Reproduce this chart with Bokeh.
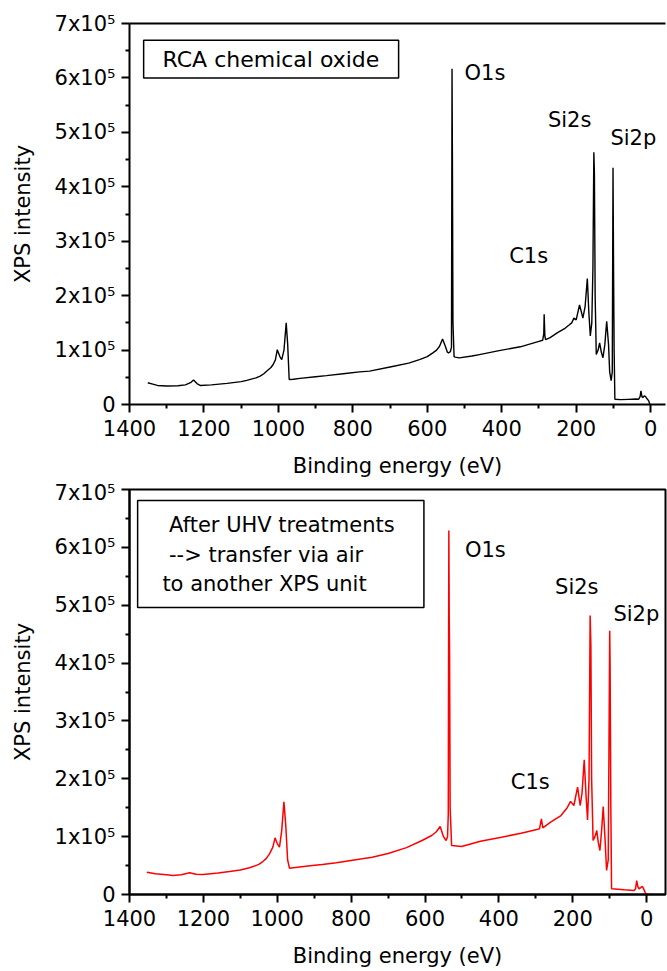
from bokeh.plotting import figure
from bokeh.models import FixedTicker, Label, BoxAnnotation, LinearAxis, Range1d
from bokeh.layouts import column
from bokeh.embed import file_html
from bokeh.resources import INLINE

FONT = "DejaVu Sans"

# ---------------- data ----------------
x_ticks = [0, 200, 400, 600, 800, 1000, 1200, 1400]
x_minor = [100, 300, 500, 700, 900, 1100, 1300]
y_ticks = [0, 100000, 200000, 300000, 400000, 500000, 600000, 700000]
y_minor = [50000, 150000, 250000, 350000, 450000, 550000, 650000]
y_tick_labels = ["0", "1x10⁵", "2x10⁵", "3x10⁵", "4x10⁵", "5x10⁵", "6x10⁵", "7x10⁵"]

# RCA chemical oxide (black)
rca_energy = [1351, 1340, 1325, 1300, 1270, 1250, 1236, 1228, 1218, 1210, 1180, 1138,
              1100, 1085, 1060, 1049, 1040, 1031, 1020, 1014, 1008, 1003, 996, 991,
              985, 979, 975, 971, 960, 942, 900, 871, 820, 782, 755, 700, 650, 621,
              600, 585, 575, 567, 559, 552, 546, 543, 538, 535, 533.5, 532.5, 531, 528,
              525, 514, 480, 460, 407, 350, 300, 290, 287, 286, 284, 282, 270, 250,
              230, 219, 212, 206, 200, 191, 186, 182, 176, 170, 166, 162, 158, 155,
              152.5, 151, 149, 146, 141, 137, 132, 128, 123, 118, 113, 110, 106, 103,
              101, 99.5, 98, 96, 80, 60, 40, 32, 28, 26, 23, 20.5, 17, 14, 9, 5, 2, 0]
rca_intensity = [40000, 38000, 35000, 34000, 34500, 36000, 40000, 45000, 38000, 35000,
                 36000, 38800, 42000, 44300, 49000, 52000, 56000, 61400, 68000, 73500,
                 82000, 100800, 88000, 82600, 100000, 150000, 110000, 46000, 46500,
                 48000, 51000, 53000, 57000, 60000, 61400, 69000, 76000, 82600, 88000,
                 94800, 100000, 107000, 120300, 108000, 96000, 94800, 97000, 105000,
                 617000, 459000, 150000, 88000, 87000, 85700, 89000, 91700, 99000,
                 106000, 116000, 118000, 130000, 166000, 125000, 119000, 123000,
                 132000, 140000, 146000, 150000, 158600, 155500, 182800, 170000,
                 158600, 180000, 231500, 170000, 126000, 150000, 250000, 463600,
                 426000, 200000, 91700, 100000, 113000, 95000, 86000, 110000, 153000,
                 110000, 60000, 43700, 60000, 435000, 244000, 100000, 9700, 9000, 9500,
                 10000, 9700, 15000, 25000, 14000, 12800, 15800, 15000, 10000, 6700, 0,
                 -6000]

# After UHV treatments (red)
uhv_energy = [1353, 1330, 1300, 1282, 1260, 1237, 1220, 1201, 1160, 1129, 1100, 1075,
              1050, 1039, 1030, 1021, 1012, 1006, 1000, 994, 988, 982, 977, 972, 967,
              940, 905, 878, 840, 770, 743, 700, 650, 608, 582, 570, 559, 550, 543,
              539, 537, 535.5, 534.5, 533.5, 532, 528, 501, 450, 393, 340, 300, 290,
              285, 281, 260, 232, 215, 206, 197, 187, 180, 175, 169, 164, 160, 156,
              153, 151, 149, 145, 140, 135, 131, 126.5, 122, 117.6, 113, 108.5, 104,
              100, 99, 97, 95, 60, 34, 30, 27, 24, 20.7, 16, 11.6, 7, 2.7, -8]
uhv_intensity = [38600, 36000, 34000, 32800, 34000, 37500, 35000, 34600, 37000, 39700,
                 42500, 46100, 52000, 57000, 62000, 70300, 82000, 98000, 88000, 81800,
                 110000, 160000, 120000, 60000, 45500, 47500, 50000, 51800, 55000,
                 61700, 64500, 71000, 81000, 93300, 102000, 108000, 117500, 100000,
                 93300, 100000, 140000, 629000, 479000, 416000, 150000, 84700, 83000,
                 92000, 99000, 106000, 112000, 113500, 130800, 115000, 125000, 136500,
                 150000, 161000, 153800, 185500, 153800, 175000, 232800, 170000,
                 129000, 200000, 482000, 430000, 200000, 93300, 100000, 110600, 90000,
                 76000, 110000, 152000, 100000, 41500, 60000, 456000, 400000, 150000,
                 9800, 8000, 6900, 10000, 24000, 14000, 9800, 12000, 14300, 8000, 1200, 0]


def style_axes(p):
    for ax in (p.xaxis[0], p.yaxis[0]):
        ax.axis_line_width = 2
        ax.axis_line_color = "black"
        ax.major_tick_line_width = 2
        ax.minor_tick_line_width = 2
        ax.major_tick_line_color = "black"
        ax.minor_tick_line_color = "black"
        ax.major_tick_in = 0
        ax.major_tick_out = 8
        ax.minor_tick_in = 0
        ax.minor_tick_out = 4
        ax.major_label_text_font = FONT
        ax.major_label_text_font_size = "21px"
        ax.major_label_text_color = "black"
        ax.axis_label_text_font = FONT
        ax.axis_label_text_font_size = "21px"
        ax.axis_label_text_font_style = "normal"
        ax.axis_label_text_color = "black"
    p.xaxis[0].ticker = FixedTicker(ticks=x_ticks, minor_ticks=x_minor)
    p.yaxis[0].ticker = FixedTicker(ticks=y_ticks, minor_ticks=y_minor)
    p.yaxis[0].major_label_overrides = {t: s for t, s in zip(y_ticks, y_tick_labels)}
    p.xaxis[0].major_label_standoff = 7
    p.yaxis[0].major_label_standoff = 6
    p.xaxis[0].axis_label_standoff = 15
    p.yaxis[0].axis_label_standoff = 17
    p.xaxis[0].axis_label = "Binding energy (eV)"
    p.yaxis[0].axis_label = "XPS intensity"
    p.grid.visible = False
    p.background_fill_color = "white"
    p.border_fill_color = "white"


def peak_label(p, x, y, text, size="21px"):
    p.add_layout(Label(x=x, y=y, text=text, text_font=FONT, text_font_size=size,
                       text_color="black", text_align="left", text_baseline="middle"))


def frame_box(p, l, r, b, t):
    p.add_layout(BoxAnnotation(left=l, right=r, bottom=b, top=t, fill_color=None,
                               fill_alpha=0, line_color="black", line_alpha=1.0,
                               line_width=1.5))


# ---------------- top panel ----------------
p1 = figure(width=667, height=480, x_range=Range1d(1400, -40), y_range=Range1d(0, 700000),
            output_backend="svg", toolbar_location=None,
            min_border_left=129, min_border_right=0, min_border_top=23, min_border_bottom=73)
style_axes(p1)
p1.outline_line_color = None
top_ax = LinearAxis(ticker=FixedTicker(ticks=[]), axis_line_width=2, axis_line_color="black",
                    major_tick_line_color=None, minor_tick_line_color=None,
                    major_label_text_font_size="0px", major_label_standoff=0)
p1.add_layout(top_ax, "above")
p1.line(rca_energy, rca_intensity, line_color="black", line_width=1.4)
frame_box(p1, 1362, 677, 600000, 669000)
p1.add_layout(Label(x=1020, y=634000, text="RCA chemical oxide", text_font=FONT,
                    text_font_size="22px", text_color="black", text_align="center",
                    text_baseline="middle"))
peak_label(p1, 500, 609000, "O1s")
peak_label(p1, 276, 522000, "Si2s")
peak_label(p1, 108, 490000, "Si2p")
peak_label(p1, 380, 273000, "C1s")

# ---------------- bottom panel ----------------
p2 = figure(width=667, height=491, x_range=Range1d(1400, -51), y_range=Range1d(0, 700000),
            output_backend="svg", toolbar_location=None,
            min_border_left=126, min_border_right=2, min_border_top=9, min_border_bottom=77)
style_axes(p2)
p2.outline_line_color = "black"
p2.outline_line_width = 2
p2.line(uhv_energy, uhv_intensity, line_color="#ff0000", line_width=1.5)
frame_box(p2, 1378, 603, 496000, 681000)
for lx, ly, txt in [(1293, 638000, "After UHV treatments"),
                    (1293, 586000, "--> transfer via air"),
                    (1311, 537500, "to another XPS unit")]:
    p2.add_layout(Label(x=lx, y=ly, text=txt, text_font=FONT, text_font_size="21px",
                        text_color="black", text_align="left", text_baseline="middle"))
peak_label(p2, 492, 596000, "O1s")
peak_label(p2, 248, 532000, "Si2s")
peak_label(p2, 90, 484000, "Si2p")
peak_label(p2, 368, 195000, "C1s")

layout = column(p1, p2, spacing=0)
open("out.html", "w").write(file_html(layout, INLINE))
